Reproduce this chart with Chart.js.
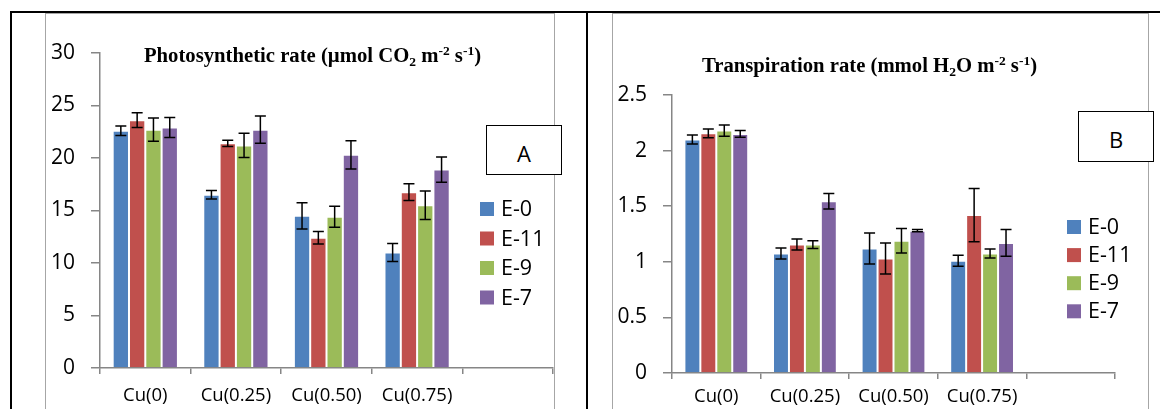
<!DOCTYPE html>
<html>
<head>
<meta charset="utf-8">
<script src="https://cdn.jsdelivr.net/npm/chart.js@4.4.0/dist/chart.umd.min.js"></script>
<style>
  body { margin: 0; background: #fff; width: 1160px; height: 409px; overflow: hidden; position: relative; }
  .rule { position: absolute; background: #000; }
  .frame { position: absolute; border: 1px solid #a6a6a6; box-sizing: border-box; }
  canvas { position: absolute; }
  .tag { position: absolute; border: 1.5px solid #000; background: #fff; box-sizing: border-box;
         font: 22px 'Open Sans', sans-serif; text-align: center; color: #000; }
</style>
</head>
<body>
<div class="rule" style="left:10px;top:11px;width:1150px;height:2px"></div>
<div class="rule" style="left:10px;top:11px;width:2px;height:398px"></div>
<div class="rule" style="left:586px;top:11px;width:2px;height:398px"></div>

<div class="frame" style="left:45px;top:13px;width:510px;height:410px"></div>
<div class="frame" style="left:612px;top:13px;width:537px;height:410px"></div>

<canvas id="chartA" width="509" height="396" style="left:45px;top:13px"></canvas>
<canvas id="chartB" width="536" height="396" style="left:612px;top:13px"></canvas>

<div class="tag" style="left:486px;top:125px;width:76px;height:50px;line-height:54px">A</div>
<div class="tag" style="left:1078px;top:111px;width:76px;height:51px;line-height:54px">B</div>

<script>
// categories (last one is the empty slot Excel leaves on the axis)
const categories = ['Cu(0)', 'Cu(0.25)', 'Cu(0.50)', 'Cu(0.75)', ''];
const seriesNames = ['E-0', 'E-11', 'E-9', 'E-7'];
const seriesColors = ['#4f81bd', '#c0504d', '#9bbb59', '#8064a2'];

// A - photosynthetic rate
const photoE0 = [22.6, 16.5, 14.5, 11.0];
const photoE11 = [23.6, 21.4, 12.4, 16.75];
const photoE9 = [22.7, 21.2, 14.4, 15.5];
const photoE7 = [22.9, 22.7, 20.3, 18.9];
const photoErrE0 = [0.45, 0.4, 1.25, 0.85];
const photoErrE11 = [0.7, 0.3, 0.6, 0.8];
const photoErrE9 = [1.1, 1.15, 1.0, 1.35];
const photoErrE7 = [0.95, 1.3, 1.35, 1.2];

// B - transpiration rate
const tranE0 = [2.10, 1.075, 1.12, 1.01];
const tranE11 = [2.155, 1.155, 1.03, 1.42];
const tranE9 = [2.18, 1.155, 1.19, 1.075];
const tranE7 = [2.15, 1.545, 1.28, 1.17];
const tranErrE0 = [0.04, 0.05, 0.14, 0.05];
const tranErrE11 = [0.04, 0.05, 0.14, 0.24];
const tranErrE9 = [0.05, 0.035, 0.11, 0.04];
const tranErrE7 = [0.03, 0.07, 0.01, 0.12];

const axisGray = '#868686';
const sans = "'Open Sans', sans-serif";
const serif = "'Liberation Serif', 'Times New Roman', serif";

// error bars on top of each bar
const errorBars = {
    id: 'errorBars',
    afterDatasetsDraw(chart) {
        const ctx = chart.ctx;
        const yScale = chart.scales.y;
        ctx.save();
        ctx.strokeStyle = '#000';
        ctx.lineWidth = 1.5;
        chart.data.datasets.forEach((ds, i) => {
            chart.getDatasetMeta(i).data.forEach((bar, j) => {
                const v = ds.data[j];
                if (v == null) return;
                const top = yScale.getPixelForValue(v + ds.errors[j]);
                const bot = yScale.getPixelForValue(v - ds.errors[j]);
                ctx.beginPath();
                ctx.moveTo(bar.x, top); ctx.lineTo(bar.x, bot);
                ctx.moveTo(bar.x - 5.5, top); ctx.lineTo(bar.x + 5.5, top);
                ctx.moveTo(bar.x - 5.5, bot); ctx.lineTo(bar.x + 5.5, bot);
                ctx.stroke();
            });
        });
        ctx.restore();
    }
};

// legend placed over the empty fifth category, like Excel does
const sideLegend = {
    id: 'sideLegend',
    afterDraw(chart, args, opts) {
        const ctx = chart.ctx;
        ctx.save();
        ctx.font = '21.5px ' + sans;
        ctx.textBaseline = 'middle';
        chart.data.datasets.forEach((ds, i) => {
            const cy = opts.y + i * opts.step;
            ctx.fillStyle = ds.backgroundColor;
            ctx.fillRect(opts.x, cy - 7, 14, 14);
            ctx.fillStyle = '#000';
            ctx.fillText(ds.label, opts.x + 21, cy + 1);
        });
        ctx.restore();
    }
};

// bold serif title with sub/superscripts
const richTitle = {
    id: 'richTitle',
    afterDraw(chart, args, opts) {
        const ctx = chart.ctx;
        const big = 'bold 20.7px ' + serif, small = 'bold 13.5px ' + serif;
        ctx.save();
        ctx.fillStyle = '#000';
        ctx.textBaseline = 'alphabetic';
        let total = 0;
        opts.parts.forEach(p => { ctx.font = p.dy ? small : big; total += ctx.measureText(p.t).width; });
        let x = opts.cx - total / 2;
        opts.parts.forEach(p => {
            ctx.font = p.dy ? small : big;
            ctx.fillText(p.t, x, opts.y + (p.dy || 0));
            x += ctx.measureText(p.t).width;
        });
        ctx.restore();
    }
};

function makeDatasets(values, errors) {
    return seriesNames.map((name, i) => ({
        label: name,
        data: values[i],
        errors: errors[i],
        backgroundColor: seriesColors[i],
        borderColor: 'rgba(255,255,255,0.35)',
        borderWidth: 1,
        barPercentage: 1,
        categoryPercentage: 0.72
    }));
}

function makeChart(id, datasets, yMax, yStep, yWidth, xHeight, xPad, padRight, legendOpts, titleOpts) {
    return new Chart(document.getElementById(id), {
        type: 'bar',
        data: { labels: categories, datasets: datasets },
        options: {
            responsive: false,
            animation: false,
            layout: { padding: { left: 0, top: titleOpts.top, right: padRight, bottom: 0 } },
            plugins: {
                legend: { display: false },
                tooltip: { enabled: false },
                sideLegend: legendOpts,
                richTitle: titleOpts
            },
            scales: {
                x: {
                    grid: { drawOnChartArea: false, tickLength: 6, color: axisGray, lineWidth: 1.5, offset: true },
                    border: { color: axisGray, width: 1.5 },
                    ticks: { color: '#000', font: { family: sans, size: 18.5 }, padding: xPad, maxRotation: 0, autoSkip: false },
                    afterFit(scale) { scale.height = xHeight; }
                },
                y: {
                    min: 0,
                    max: yMax,
                    grid: { drawOnChartArea: false, tickLength: 9, color: axisGray, lineWidth: 1.5 },
                    border: { color: axisGray, width: 1.5 },
                    ticks: {
                        stepSize: yStep, color: '#000', font: { family: sans, size: 21 }, padding: 16,
                        callback: value => String(value)
                    },
                    afterFit(scale) { scale.width = yWidth; }
                }
            }
        },
        plugins: [errorBars, sideLegend, richTitle]
    });
}

makeChart('chartA',
    makeDatasets([photoE0, photoE11, photoE9, photoE7], [photoErrE0, photoErrE11, photoErrE9, photoErrE7]),
    30, 5, 55, 41, 11, 1,
    { x: 435, y: 196, step: 29.5 },
    { top: 40, cx: 267.5, y: 49, parts: [
        { t: 'Photosynthetic rate (\u00b5mol CO' }, { t: '2', dy: 4 }, { t: ' m' },
        { t: '-2', dy: -7 }, { t: ' s' }, { t: '-1', dy: -7 }, { t: ')' } ] });

makeChart('chartB',
    makeDatasets([tranE0, tranE11, tranE9, tranE7], [tranErrE0, tranErrE11, tranErrE9, tranErrE7]),
    2.5, 0.5, 60, 36, 7, 33,
    { x: 455, y: 214, step: 28.1 },
    { top: 82, cx: 257.5, y: 59, parts: [
        { t: 'Transpiration rate (mmol H' }, { t: '2', dy: 4 }, { t: 'O m' },
        { t: '-2', dy: -7 }, { t: ' s' }, { t: '-1', dy: -7 }, { t: ')' } ] });
</script>
</body>
</html>
